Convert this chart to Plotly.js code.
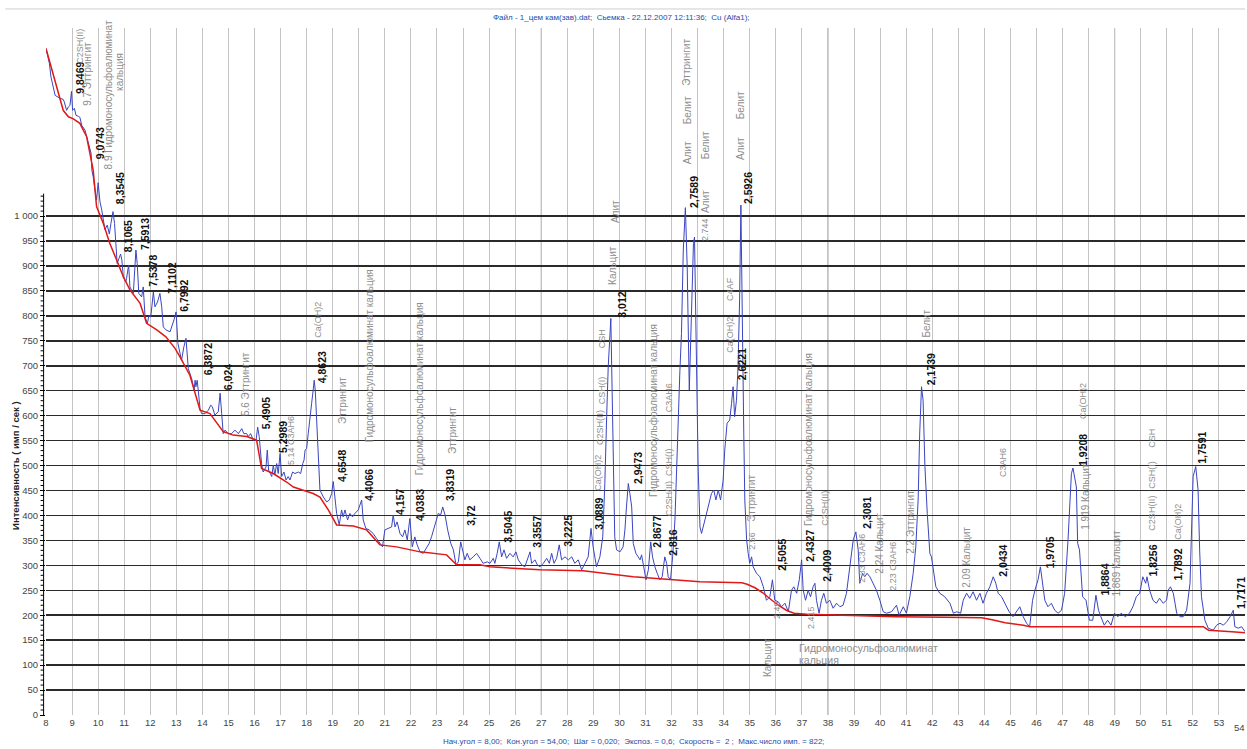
<!DOCTYPE html>
<html><head><meta charset="utf-8">
<script src="https://cdn.plot.ly/plotly-3.0.1.min.js"></script>
<style>body{margin:0;background:#fff}#c{width:1247px;height:749px}</style>
</head><body><div id="c"></div>
<script>
// Measured diffraction pattern (2θ, intensity)
const twoTheta = [8.00,8.05,8.13,8.19,8.35,8.54,8.66,8.70,8.79,8.86,8.92,8.98,9.02,9.09,9.15,9.24,9.30,9.37,9.43,9.50,9.56,9.65,9.73,9.76,9.81,9.88,9.94,10.00,10.07,10.14,10.20,10.26,10.35,10.43,10.49,10.57,10.63,10.69,10.73,10.80,10.86,10.91,10.97,11.06,11.09,11.17,11.22,11.35,11.45,11.50,11.56,11.67,11.73,11.80,11.89,11.95,12.02,12.12,12.18,12.28,12.37,12.44,12.50,12.60,12.76,12.91,12.99,13.06,13.14,13.20,13.29,13.37,13.46,13.59,13.68,13.72,13.75,13.80,13.84,13.91,13.97,14.10,14.23,14.32,14.38,14.42,14.48,14.61,14.68,14.74,14.80,14.87,14.99,15.12,15.25,15.38,15.51,15.59,15.70,15.76,15.85,15.95,16.06,16.12,16.18,16.27,16.33,16.44,16.49,16.54,16.66,16.72,16.78,16.85,16.91,16.98,17.04,17.13,17.21,17.29,17.36,17.46,17.55,17.68,17.77,17.85,17.90,17.94,18.00,18.06,18.13,18.19,18.25,18.29,18.33,18.38,18.45,18.51,18.64,18.77,18.87,18.96,19.02,19.09,19.15,19.25,19.34,19.40,19.47,19.57,19.66,19.76,19.85,19.98,20.11,20.17,20.27,20.40,20.55,20.68,20.81,20.91,21.00,21.13,21.26,21.32,21.39,21.47,21.58,21.68,21.77,21.86,21.96,22.05,22.15,22.24,22.35,22.47,22.60,22.70,22.79,22.92,23.05,23.14,23.22,23.31,23.41,23.53,23.63,23.73,23.82,23.91,23.98,24.07,24.16,24.26,24.39,24.52,24.65,24.77,24.93,25.03,25.16,25.22,25.31,25.39,25.48,25.57,25.67,25.80,25.92,26.03,26.12,26.25,26.37,26.48,26.57,26.63,26.76,26.85,26.95,27.08,27.21,27.31,27.40,27.49,27.59,27.69,27.78,27.91,28.04,28.17,28.29,28.42,28.55,28.68,28.80,28.91,28.99,29.12,29.25,29.36,29.44,29.51,29.57,29.67,29.72,29.77,29.82,29.89,30.02,30.14,30.21,30.27,30.34,30.40,30.47,30.53,30.63,30.72,30.79,30.85,30.94,31.02,31.11,31.20,31.27,31.36,31.45,31.55,31.64,31.74,31.81,31.87,31.96,32.04,32.13,32.19,32.25,32.32,32.38,32.45,32.53,32.60,32.68,32.76,32.84,32.88,32.96,33.02,33.09,33.15,33.28,33.40,33.53,33.62,33.70,33.79,33.88,33.98,34.04,34.13,34.23,34.30,34.36,34.42,34.49,34.55,34.61,34.66,34.71,34.77,34.81,34.88,34.94,35.00,35.07,35.13,35.26,35.39,35.52,35.64,35.77,35.87,35.96,36.09,36.22,36.35,36.48,36.60,36.69,36.80,36.90,36.99,37.05,37.14,37.24,37.33,37.43,37.50,37.56,37.66,37.75,37.84,37.94,38.07,38.20,38.33,38.46,38.58,38.71,38.84,38.97,39.07,39.16,39.22,39.33,39.41,39.50,39.61,39.73,39.86,39.99,40.12,40.25,40.44,40.63,40.73,40.89,41.01,41.14,41.27,41.37,41.46,41.52,41.59,41.65,41.72,41.81,41.91,41.97,42.03,42.14,42.29,42.48,42.68,42.81,42.94,43.09,43.19,43.32,43.44,43.57,43.70,43.83,43.95,44.08,44.21,44.34,44.44,44.53,44.66,44.79,44.95,45.10,45.23,45.36,45.49,45.62,45.74,45.85,45.94,46.06,46.15,46.23,46.32,46.44,46.57,46.70,46.83,46.96,47.08,47.21,47.34,47.40,47.53,47.58,47.65,47.77,47.90,48.03,48.16,48.28,48.38,48.47,48.60,48.73,48.86,48.99,49.12,49.25,49.41,49.57,49.70,49.83,49.96,50.08,50.19,50.24,50.34,50.47,50.60,50.72,50.86,50.99,51.05,51.14,51.25,51.38,51.51,51.63,51.76,51.89,51.95,52.01,52.11,52.20,52.26,52.33,52.46,52.59,52.78,52.91,53.04,53.17,53.30,53.43,53.55,53.61,53.74,53.87,54.00];
const intensity = [1336,1326,1306,1279,1242,1236,1234,1229,1212,1219,1222,1250,1212,1216,1202,1200,1198,1182,1178,1172,1159,1142,1126,1092,1079,1052,1032,1067,1029,1012,992,973,982,964,985,1009,985,945,905,915,924,912,877,868,875,902,858,845,932,905,845,838,858,798,785,801,798,848,818,828,845,818,778,772,768,792,808,745,728,711,738,755,694,674,651,671,658,671,651,614,604,604,611,621,618,611,601,608,645,604,564,571,564,564,571,564,574,564,564,558,564,551,551,577,558,504,487,497,531,491,478,501,481,504,484,524,478,487,471,478,471,487,484,487,484,504,511,531,534,564,591,624,651,671,651,591,504,451,437,427,431,444,468,437,404,381,411,397,411,391,404,397,404,411,431,391,374,371,364,354,344,337,371,374,377,401,377,387,364,357,371,351,394,337,357,341,327,324,334,344,357,381,404,401,417,401,371,344,331,301,307,347,331,311,324,311,317,324,314,304,307,304,314,304,324,347,317,331,314,324,317,327,311,301,297,314,327,304,311,301,297,304,314,304,324,304,314,341,311,317,311,317,304,311,291,304,317,374,337,297,317,357,464,598,698,795,650,520,357,331,327,337,371,417,464,444,417,344,324,317,311,321,291,271,291,347,317,297,284,271,277,317,304,277,271,317,391,498,598,691,765,932,1017,898,651,780,945,958,631,497,377,364,391,417,444,451,431,451,431,471,531,585,591,624,658,598,631,698,832,1022,765,565,431,351,324,304,317,297,284,277,257,230,237,271,230,227,217,224,207,250,257,244,271,311,250,230,250,237,257,264,230,204,230,244,224,230,214,224,217,220,244,297,351,367,331,264,284,277,284,277,264,250,230,207,204,207,220,200,217,204,237,284,337,431,565,658,631,498,404,324,317,297,257,244,237,224,204,207,204,230,244,234,247,230,244,224,244,257,277,264,244,237,224,207,197,207,217,197,184,177,230,250,271,297,264,230,217,224,210,204,210,244,351,484,495,457,344,331,237,230,190,190,240,210,197,180,190,180,204,197,204,197,204,217,237,244,277,264,277,250,230,224,234,224,230,250,257,244,204,197,197,210,264,397,478,498,451,331,237,190,174,170,180,184,180,187,197,210,177,174,177,167];

// Background line (2θ, intensity)
const bgTheta = [8.00,8.66,8.86,9.05,9.30,9.56,9.81,9.94,10.20,10.45,10.71,10.97,11.22,11.61,11.86,12.25,12.60,12.95,13.14,13.52,13.91,14.29,14.80,15.18,15.70,16.08,16.27,16.72,17.23,17.49,18.25,18.51,18.83,19.15,19.79,20.30,20.81,21.45,22.35,23.37,23.75,24.65,25.03,26.95,28.61,29.25,30.53,31.81,33.09,34.70,34.90,35.20,35.50,35.80,36.10,36.40,36.70,37.20,38.50,40.60,42.50,43.90,44.30,44.80,45.50,45.75,52.40,52.60,53.50,54.00];
const bgIntensity = [1336,1212,1199,1195,1186,1159,1092,1019,985,945,912,878,852,825,785,772,758,735,718,681,611,604,568,561,558,551,494,484,467,457,444,437,411,381,379,371,341,337,327,321,301,301,297,291,289,285,277,272,267,265,262,255,245,232,220,210,204,202,200,197,196,195,191,185,180,177,177,170,167,165];

// Peak d-spacing labels: text, 2θ, intensity level of label centre
const peakText = ["9,8469","9,0743","8,3545","8,1065","7,5913","7,5378","7,1102","6,7992","6,3872","6,024","5,4905","5,2989","4,8623","4,6548","4,4066","4,157","4,0383","3,8319","3,72","3,5045","3,3557","3,2225","3,0889","3,012","2,9473","2,8677","2,816","2,7589","2,6221","2,5926","2,5055","2,4327","2,4009","2,3081","2,1739","2,0434","1,9705","1,9208","1,8864","1,8256","1,7892","1,7591","1,7171"];
const peakTheta = [9.30,10.07,10.84,11.15,11.80,12.10,12.83,13.29,14.21,14.98,16.44,17.09,18.59,19.35,20.39,21.58,22.35,23.50,24.30,25.72,26.83,28.02,29.21,30.09,30.71,31.44,32.05,32.86,34.70,34.93,36.23,37.31,37.96,39.49,41.95,44.71,46.51,47.78,48.62,50.46,51.42,52.34,53.84];
const peakLevel = [1277,1146,1056,960,964,890,876,840,713,677,605,557,697,499,461,427,421,461,401,377,367,369,403,822,495,367,345,1048,703,1056,321,339,299,405,693,309,325,531,271,309,301,535,244];

// Phase identification labels
const phaseText = ["C2SH(II)","9.7 Эттрингит","8.9 Гидромоносульфоалюминат","кальция","5.6 Эттрингит","5.14 C3AH6","Ca(OH)2","Эттрингит","Гидромоносульфоалюминат кальция","Гидромоносульфоалюминат кальция","Эттрингит","Ca(OH)2","C2SH(II)","CSH(I)","CSH","Кальцит","Алит","Гидромоносульфоалюминат кальция","C2SH(II)","CSH(I)","C3AH6","Алит","Белит","Эттрингит","2.744","Алит","Белит","Ca(OH)2","C4AF","Алит","Белит","2.56","Эттрингит","Кальцит","2.49","2.415","Гидромоносульфоалюминат кальция","C2SH(II)","2.33 C3AH6","2.24 Кальцит","2.23 C3AH6","2.2 Эттрингит","Белит","2.09 Кальцит","C3AH6","Ca(OH)2","1.919 Кальцит","1.869 Кальцит","C2SH(II)","CSH(I)","CSH","Ca(OH)2"];
const phaseTheta = [9.30,9.61,10.38,10.84,15.63,17.40,18.43,19.35,20.39,22.31,23.57,29.17,29.25,29.33,29.33,29.75,29.83,31.28,31.90,31.90,31.90,32.59,32.59,32.59,33.28,33.28,33.28,34.24,34.24,34.62,34.62,35.08,35.08,35.66,36.04,37.34,37.23,37.88,39.30,39.99,40.49,41.18,41.79,43.33,44.71,47.78,47.89,49.08,50.42,50.42,50.42,51.42];
const phaseLevel = [1341,1285,1242,1289,663,549,792,631,721,655,571,485,577,651,755,902,1008,611,435,507,637,1128,1212,1309,974,1030,1142,762,854,1136,1222,349,435,116,210,196,553,415,315,345,299,387,784,317,507,629,439,305,405,481,555,387];

// Horizontal phase label
const flatText = ["Гидромоносульфоалюминат","кальция"];
const flatTheta = [36.81,36.81];
const flatLevel = [134,110];

const xTicks = []; for (let v = 8; v <= 53; v++) xTicks.push(v);
const yTicks = []; for (let v = 0; v <= 1000; v += 50) yTicks.push(v);
const yTickText = yTicks.map(v => v === 1000 ? "1 000" : String(v));
const darkGrid = [16, 27, 38, 49];

const SANS = "Liberation Sans, Arial, sans-serif";
const hasCyr = t => /[\u0400-\u04FF]/.test(t);
const annotations = [];
peakText.forEach((t, i) => annotations.push({
  x: peakTheta[i], y: peakLevel[i], xref: 'x', yref: 'y', text: '<b>' + t + '</b>',
  showarrow: false, textangle: -90, xanchor: 'center', yanchor: 'middle',
  font: {family: SANS, size: 10.5, color: '#111'}
}));
phaseText.forEach((t, i) => annotations.push({
  x: phaseTheta[i], y: phaseLevel[i], xref: 'x', yref: 'y', text: t,
  showarrow: false, textangle: -90, xanchor: 'center', yanchor: 'middle',
  font: {family: SANS, size: hasCyr(t) ? 10 : 9, color: '#8e8e8e'}
}));
flatText.forEach((t, i) => annotations.push({
  x: flatTheta[i], y: flatLevel[i], xref: 'x', yref: 'y', text: t,
  showarrow: false, xanchor: 'left', yanchor: 'middle',
  font: {family: SANS, size: 10.5, color: '#8e8e8e'}
}));
// last x tick label, kept inside the right edge
annotations.push({
  xref: 'paper', yref: 'paper', x: 1.0013, y: -0.0175, showarrow: false, text: '54',
  font: {family: SANS, size: 9.5, color: '#444'}, xanchor: 'right', yanchor: 'middle'
});
annotations.push({
  xref: 'paper', yref: 'paper', x: 0.480, y: 1.0146, showarrow: false,
  text: 'Файл - 1_цем кам(зав).dat;  Сьемка - 22.12.2007 12:11:36;  Cu (Alfa1);',
  font: {family: SANS, size: 8, color: '#2a4aa8'}, xanchor: 'center', yanchor: 'middle'
});
annotations.push({
  xref: 'paper', yref: 'paper', x: 0.490, y: -0.039, showarrow: false,
  text: 'Нач.угол = 8,00;  Кон.угол = 54,00;  Шаг = 0,020;  Экспоз. = 0,6;  Скорость =  2 ;  Макс.число имп. = 822;',
  font: {family: SANS, size: 8, color: '#2a4aa8'}, xanchor: 'center', yanchor: 'middle'
});
annotations.push({
  xref: 'paper', yref: 'y', x: -0.026, y: 501, showarrow: false, textangle: -90,
  text: '<b>Интенсивность ( имп / сек )</b>',
  font: {family: SANS, size: 9.5, color: '#222'}, xanchor: 'center', yanchor: 'middle'
});

const shapes = [];
darkGrid.forEach(v => shapes.push({type: 'line', xref: 'x', yref: 'paper', x0: v, x1: v, y0: 0, y1: 1, layer: 'below', line: {color: '#9a9a9a', width: 1}}));
// y axis line and minor ticks
shapes.push({type: 'line', xref: 'paper', yref: 'y', x0: -0.002, x1: -0.002, y0: 0, y1: 1045, line: {color: '#000', width: 1}});
for (let v = 10; v <= 1040; v += 10) {
  if (v % 50 === 0 && v <= 1000) continue;
  shapes.push({type: 'line', xref: 'paper', yref: 'y', x0: -0.0045, x1: -0.002, y0: v, y1: v, line: {color: '#000', width: 1}});
}
// top rule above title
shapes.push({type: 'line', xref: 'paper', yref: 'paper', x0: -0.034, x1: 1.0, y0: 1.0277, y1: 1.0277, line: {color: '#cfcfcf', width: 1}});

const data = [
  {x: twoTheta, y: intensity, type: 'scatter', mode: 'lines', line: {color: '#3a45c0', width: 1}, hoverinfo: 'skip'},
  {x: bgTheta, y: bgIntensity, type: 'scatter', mode: 'lines', line: {color: '#e01818', width: 1.5}, hoverinfo: 'skip'}
];

const layout = {
  width: 1247, height: 749,
  margin: {l: 46, r: 2, t: 28, b: 34, pad: 0},
  paper_bgcolor: '#fff', plot_bgcolor: '#fff',
  showlegend: false,
  xaxis: {
    range: [8, 54], tickvals: xTicks, ticktext: xTicks.map(String),
    showgrid: true, gridcolor: '#c4c4c4', gridwidth: 1, zeroline: false, showline: false,
    ticks: '', tickfont: {family: SANS, size: 9.5, color: '#444'}, fixedrange: true
  },
  yaxis: {
    range: [0, 1377], tickvals: yTicks, ticktext: yTickText,
    showgrid: true, gridcolor: '#2a2a2a', gridwidth: 1.5, zeroline: false, showline: false,
    ticks: 'outside', ticklen: 5, tickcolor: '#000', tickwidth: 1,
    tickfont: {family: SANS, size: 9.5, color: '#444'}, fixedrange: true
  },
  annotations: annotations,
  shapes: shapes
};
Plotly.newPlot('c', data, layout, {staticPlot: true, displayModeBar: false});
</script></body></html>
